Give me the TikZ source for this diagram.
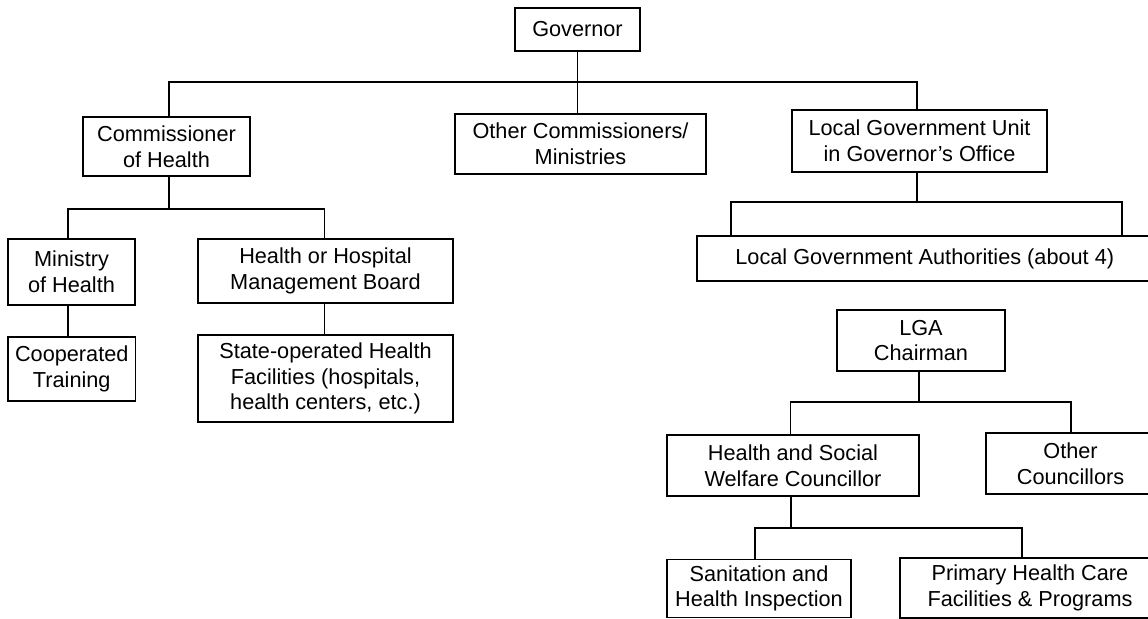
\documentclass[tikz,border=0pt]{standalone}
\usepackage{fontspec}
\setmainfont{Liberation Sans}
\begin{document}
\begin{tikzpicture}[x=0.5pt,y=-0.5pt,
  box/.style={draw, line width=0.9pt, inner sep=0pt, align=center,
    font=\fontsize{10.85}{12.8}\selectfont},
  bx/.style 2 args={box, minimum width=#1*0.5pt, minimum height=#2*0.5pt},
  ln/.style={line width=0.9pt}]
\useasboundingbox (0,0) rectangle (1148,618);
\clip (0,0) rectangle (1148,618);
% nodes
\node[bx={125}{43}]  (gov)   at (577.5,29.5) {Governor};
\node[bx={167}{59}]  (comm)  at (166.5,146.5) {Commissioner\\of Health};
\node[bx={251}{60}]  (oth)   at (580.5,144) {Other Commissioners/\\Ministries};
\node[bx={255}{62}]  (lgu)   at (919.5,141) {Local Government Unit\\in Governor’s Office};
\node[bx={127}{66}]  (min)   at (71.5,272) {Ministry\\of Health};
\node[bx={255}{64}]  (hhmb)  at (325.5,271) {Health or Hospital\\Management Board};
\node[bx={127.5}{64}] (coop) at (71.75,369) {Cooperated\\Training};
\node[bx={255}{87}]  (state) at (325.5,378.5) {State-operated Health\\Facilities (hospitals,\\health centers, etc.)};
\node[bx={455.5}{45}] (lga)  at (924.75,258.5) {Local Government Authorities (about 4)};
\node[bx={168}{61}]  (chair) at (921,340.5) {LGA\\Chairman};
\node[bx={252}{61}]  (hswc)  at (793,465.5) {Health and Social\\Welfare Councillor};
\node[bx={169}{61}]  (othc)  at (1070.5,463.5) {Other\\Councillors};
\node[bx={184}{58}]  (san)   at (759,588.5) {Sanitation and\\Health Inspection};
\node[bx={260}{60}]  (phc)   at (1030,588) {Primary Health Care\\Facilities \& Programs};
% bus coordinates
\coordinate (b1L) at (169,82);   \coordinate (b1R) at (917,82);
\coordinate (b2C) at (169,209);  \coordinate (b2L) at (68,209);  \coordinate (b2R) at (324.5,209);
\coordinate (b3C) at (917,202);  \coordinate (b3L) at (731,202); \coordinate (b3R) at (1122,202);
\coordinate (b4C) at (919,402);  \coordinate (b4L) at (790.5,402); \coordinate (b4R) at (1070.7,402);
\coordinate (b5C) at (791,528);  \coordinate (b5L) at (755,528); \coordinate (b5R) at (1022,528);
% connectors
\draw[ln] (gov.south) -- (gov.south |- oth.north);
\draw[ln] (comm.north -| b1L) -- (b1L) -- (b1R) -- (lgu.north -| b1R);
\draw[ln] (comm.south -| b2C) -- (b2C);
\draw[ln] (min.north -| b2L) -- (b2L) -- (b2R) -- (hhmb.north -| b2R);
\draw[ln] (min.south -| b2L) -- (coop.north -| b2L);
\draw[ln] (hhmb.south -| b2R) -- (state.north -| b2R);
\draw[ln] (lgu.south -| b3C) -- (b3C);
\draw[ln] (lga.north -| b3L) -- (b3L) -- (b3R) -- (lga.north -| b3R);
\draw[ln] (chair.south -| b4C) -- (b4C);
\draw[ln] (hswc.north -| b4L) -- (b4L) -- (b4R) -- (othc.north -| b4R);
\draw[ln] (hswc.south -| b5C) -- (b5C);
\draw[ln] (san.north -| b5L) -- (b5L) -- (b5R) -- (phc.north -| b5R);
\end{tikzpicture}
\end{document}
